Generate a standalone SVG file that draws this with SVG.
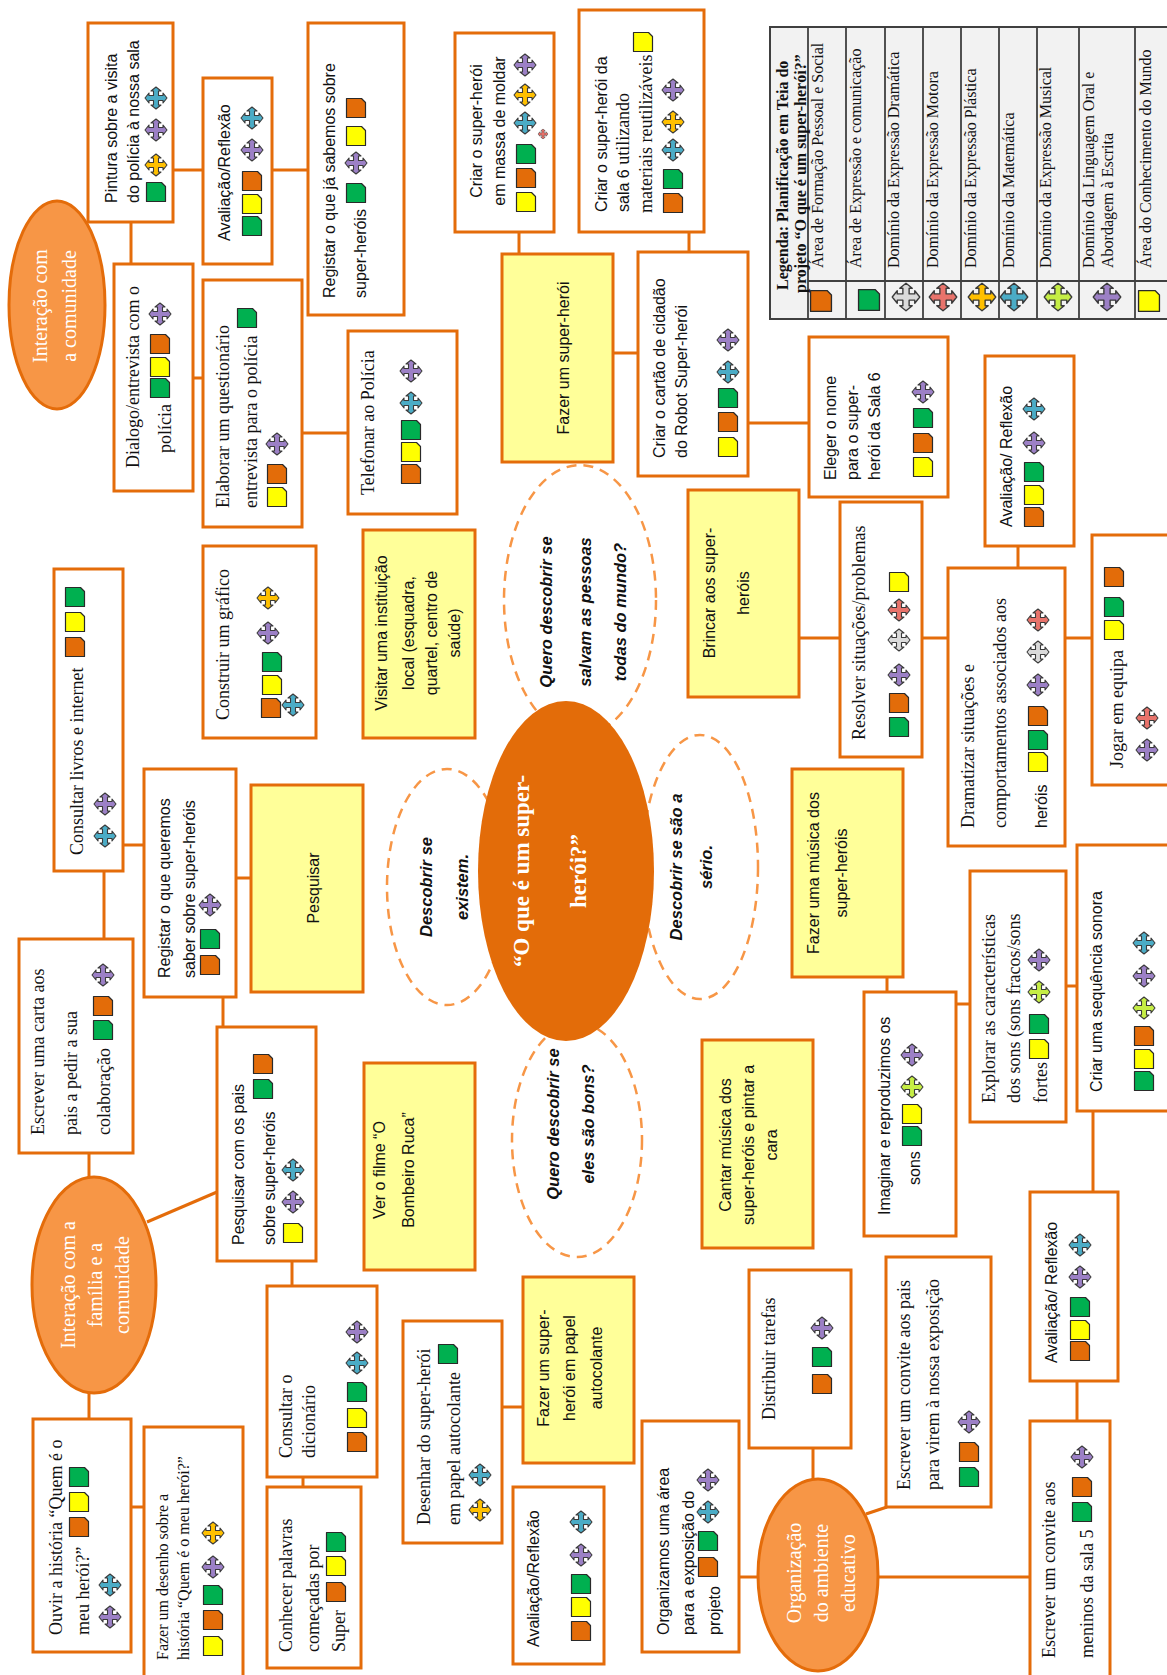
<svg xmlns="http://www.w3.org/2000/svg" xmlns:xlink="http://www.w3.org/1999/xlink" width="1167" height="1675" viewBox="0 0 1167 1675">
<defs>
<style>
.b{fill:#fff;stroke:#E46C0A;stroke-width:3}
.y{fill:#FFFF99;stroke:#E46C0A;stroke-width:3}
.s{font-family:"Liberation Sans",Arial,sans-serif;font-size:16px;fill:#111}
.r{font-family:"Liberation Serif","Times New Roman",serif;font-size:18px;fill:#111}
.m{text-anchor:middle}
.q{font-family:"Liberation Sans",Arial,sans-serif;font-size:16.5px;font-weight:bold;font-style:italic;fill:#111;text-anchor:middle}
.w{font-family:"Liberation Serif","Times New Roman",serif;font-size:20px;fill:#fff;text-anchor:middle}
.e{fill:#F79646;stroke:#E46C0A;stroke-width:3}
.d{fill:#fff;stroke:#F79646;stroke-width:2.5;stroke-dasharray:10 7}
#connectors line{stroke:#E46C0A;stroke-width:3}
.lg{font-family:"Liberation Serif","Times New Roman",serif;font-size:16px;fill:#111}
.io{fill:#E36C09}.ig{fill:#00B050}.iy{fill:#FFFF00}
.cp{fill:#9C80C6}.cb{fill:#4BACC6}.cy{fill:#FFC000}.cr{fill:#E8736B}.cg{fill:#DADADA}.cl{fill:#C6EE45}
</style>
<path id="sq" d="M-9.5,-9.5H5.5L9.5,-5.5V9.5H-9.5Z" stroke="#2a2a2a" stroke-width="1.2" stroke-linejoin="round"/>
<polygon id="cr" points="0,-11 5,-7 2.5,-7 2.5,-2.5 7,-2.5 7,-5 11,0 7,5 7,2.5 2.5,2.5 2.5,7 5,7 0,11 -5,7 -2.5,7 -2.5,2.5 -7,2.5 -7,5 -11,0 -7,-5 -7,-2.5 -2.5,-2.5 -2.5,-7 -5,-7" stroke="#3a3a3a" stroke-width="1.1" stroke-linejoin="round"/>
</defs>
<rect width="1167" height="1675" fill="#fff"/>

<g id="connectors">
<line x1="173" y1="170" x2="203" y2="170"/>
<line x1="272" y1="170" x2="308" y2="170"/>
<line x1="131" y1="222" x2="131" y2="264"/>
<line x1="193" y1="378" x2="203" y2="378"/>
<line x1="302" y1="433" x2="348" y2="433"/>
<line x1="519" y1="232" x2="519" y2="254"/>
<line x1="689" y1="232" x2="689" y2="252"/>
<line x1="613" y1="353" x2="638" y2="353"/>
<line x1="748" y1="423" x2="809" y2="423"/>
<line x1="799" y1="638" x2="840" y2="638"/>
<line x1="922" y1="638" x2="948" y2="638"/>
<line x1="1065" y1="638" x2="1092" y2="638"/>
<line x1="1018" y1="546" x2="1018" y2="568"/>
<line x1="887" y1="977" x2="887" y2="992"/>
<line x1="956" y1="1004" x2="970" y2="1004"/>
<line x1="1066" y1="986" x2="1077" y2="986"/>
<line x1="1093" y1="1111" x2="1093" y2="1192"/>
<line x1="1077" y1="1381" x2="1077" y2="1421"/>
<line x1="813" y1="1448" x2="813" y2="1480"/>
<line x1="739" y1="1577" x2="758" y2="1577"/>
<line x1="866" y1="1514" x2="887" y2="1507"/>
<line x1="878" y1="1577" x2="1030" y2="1577"/>
<line x1="502" y1="1407" x2="523" y2="1407"/>
<line x1="131" y1="1507" x2="144" y2="1507"/>
<line x1="89" y1="1392" x2="89" y2="1419"/>
<line x1="292" y1="1261" x2="292" y2="1286"/>
<line x1="303" y1="1477" x2="303" y2="1487"/>
<line x1="147" y1="1222" x2="217" y2="1192"/>
<line x1="89" y1="1153" x2="89" y2="1178"/>
<line x1="104" y1="871" x2="104" y2="939"/>
<line x1="123" y1="845" x2="144" y2="845"/>
<line x1="236" y1="878" x2="251" y2="878"/>
<line x1="223" y1="997" x2="223" y2="1027"/>
</g>

<g id="n-quero1"><ellipse class="d" cx="580" cy="600" rx="76" ry="135"/>
<text class="q" transform="rotate(-90)"><tspan x="-612" y="552">Quero descobrir se</tspan><tspan x="-612" y="591">salvam as pessoas</tspan><tspan x="-612" y="626">todas do mundo?</tspan></text></g>
<g id="n-existem"><ellipse class="d" cx="447" cy="887" rx="60" ry="118"/>
<text class="q" transform="rotate(-90)"><tspan x="-887" y="432">Descobrir se</tspan><tspan x="-887" y="468">existem.</tspan></text></g>
<g id="n-serio"><ellipse class="d" cx="700" cy="867" rx="58" ry="132"/>
<text class="q" transform="rotate(-90)"><tspan x="-867" y="682">Descobrir se são a</tspan><tspan x="-867" y="712">sério.</tspan></text></g>
<g id="n-quero2"><ellipse class="d" cx="577" cy="1140" rx="65" ry="117"/>
<text class="q" transform="rotate(-90)"><tspan x="-1124" y="559">Quero descobrir se</tspan><tspan x="-1124" y="594">eles são bons?</tspan></text></g>

<g id="n-central"><ellipse cx="566" cy="871" rx="88" ry="170" fill="#E36C09"/>
<text class="w" style="font-weight:bold;font-size:23px" transform="rotate(-90)"><tspan x="-871" y="529">“O que é um super-</tspan><tspan x="-871" y="586">herói?”</tspan></text></g>

<g id="n-pintura"><rect class="b" x="88" y="23" width="85" height="199"/>
<text class="s" transform="rotate(-90)"><tspan x="-203" y="117">Pintura sobre a visita</tspan><tspan x="-203" y="139">do polícia à nossa sala</tspan></text>
<use href="#sq" class="ig" x="156" y="192"/><use href="#cr" class="cy" x="156" y="165"/><use href="#cr" class="cp" x="156" y="130"/><use href="#cr" class="cb" x="156" y="98"/></g>

<g id="n-aval1"><rect class="b" x="203" y="78" width="69" height="186"/>
<text class="s" transform="rotate(-90)"><tspan x="-241" y="230">Avaliação/Reflexão</tspan></text>
<use href="#sq" class="ig" x="252" y="226"/><use href="#sq" class="iy" x="252" y="204"/><use href="#sq" class="io" x="252" y="181"/><use href="#cr" class="cp" x="252" y="150"/><use href="#cr" class="cb" x="252" y="118"/></g>

<g id="n-reg1"><rect class="b" x="308" y="23" width="96" height="292"/>
<text class="s" transform="rotate(-90)"><tspan x="-298" y="335">Registar o que já sabemos sobre</tspan><tspan x="-298" y="366">super-heróis</tspan></text>
<use href="#sq" class="ig" x="356" y="193"/><use href="#cr" class="cp" x="356" y="163"/><use href="#sq" class="iy" x="356" y="136"/><use href="#sq" class="io" x="356" y="108"/></g>

<g id="n-comunidade"><ellipse class="e" cx="57" cy="305" rx="48" ry="104"/>
<text class="w" transform="rotate(-90)"><tspan x="-306" y="47">Interação com</tspan><tspan x="-306" y="76">a comunidade</tspan></text></g>

<g id="n-dialogo"><rect class="b" x="114" y="264" width="79" height="227"/>
<text class="r" transform="rotate(-90)"><tspan x="-468" y="139">Dialogo/entrevista com o</tspan><tspan x="-453" y="171">polícia</tspan></text>
<use href="#sq" class="ig" x="160" y="388"/><use href="#sq" class="iy" x="160" y="367"/><use href="#sq" class="io" x="160" y="344"/><use href="#cr" class="cp" x="160" y="314"/></g>

<g id="n-elaborar"><rect class="b" x="203" y="280" width="99" height="247"/>
<text class="r" transform="rotate(-90)"><tspan x="-508" y="229">Elaborar  um questionário</tspan><tspan x="-508" y="257">entrevista para o polícia</tspan></text>
<use href="#sq" class="ig" x="247" y="318"/><use href="#sq" class="iy" x="277" y="497"/><use href="#sq" class="io" x="277" y="474"/><use href="#cr" class="cp" x="277" y="444"/></g>

<g id="n-telefonar"><rect class="b" x="348" y="331" width="109" height="183"/>
<text class="r" transform="rotate(-90)"><tspan x="-495" y="374">Telefonar ao Polícia</tspan></text>
<use href="#sq" class="io" x="411" y="474"/><use href="#sq" class="iy" x="411" y="452"/><use href="#sq" class="ig" x="411" y="430"/><use href="#cr" class="cb" x="411" y="403"/><use href="#cr" class="cp" x="411" y="371"/></g>

<g id="n-massa"><rect class="b" x="455" y="33" width="99" height="199"/>
<text class="s m" transform="rotate(-90)"><tspan x="-131" y="482">Criar o super-herói</tspan><tspan x="-131" y="505">em massa de moldar</tspan></text>
<use href="#sq" class="iy" x="526" y="202"/><use href="#sq" class="io" x="526" y="178"/><use href="#sq" class="ig" x="526" y="154"/><use href="#cr" class="cr" transform="translate(543,134) scale(0.45)"/><use href="#cr" class="cb" x="525" y="123"/><use href="#cr" class="cy" x="525" y="95"/><use href="#cr" class="cp" x="525" y="65"/></g>

<g id="n-sala6"><rect class="b" x="579" y="10" width="125" height="222"/>
<text class="s" transform="rotate(-90)"><tspan x="-212" y="607">Criar o super-herói da</tspan><tspan x="-212" y="629">sala 6 <tspan font-family="Liberation Serif, serif" font-size="18">utilizando</tspan></tspan><tspan x="-213" y="652" font-family="Liberation Serif, serif" font-size="18">materiais reutilizáveis</tspan></text>
<use href="#sq" class="iy" x="643" y="42"/><use href="#sq" class="io" x="673" y="203"/><use href="#sq" class="ig" x="673" y="179"/><use href="#cr" class="cb" x="673" y="150"/><use href="#cr" class="cy" x="673" y="122"/><use href="#cr" class="cp" x="673" y="90"/></g>

<g id="n-fazer-super"><rect class="y" x="502" y="254" width="111" height="208"/>
<text class="s m" transform="rotate(-90)"><tspan x="-358" y="569">Fazer um super-herói</tspan></text></g>

<g id="n-cartao"><rect class="b" x="638" y="252" width="110" height="224"/>
<text class="s" transform="rotate(-90)"><tspan x="-458" y="665">Criar o cartão de cidadão</tspan><tspan x="-458" y="687">do Robot Super-herói</tspan></text>
<use href="#cr" class="cp" x="728" y="340"/><use href="#cr" class="cb" x="728" y="372"/><use href="#sq" class="ig" x="728" y="398"/><use href="#sq" class="io" x="728" y="422"/><use href="#sq" class="iy" x="728" y="447"/></g>

<g id="n-eleger"><rect class="b" x="809" y="337" width="139" height="160"/>
<text class="s" transform="rotate(-90)"><tspan x="-480" y="836">Eleger o nome</tspan><tspan x="-480" y="858">para o super-</tspan><tspan x="-480" y="880">herói da Sala 6</tspan></text>
<use href="#cr" class="cp" x="923" y="392"/><use href="#sq" class="ig" x="923" y="418"/><use href="#sq" class="io" x="923" y="443"/><use href="#sq" class="iy" x="923" y="467"/></g>

<g id="n-aval2"><rect class="b" x="985" y="356" width="89" height="190"/>
<text class="s" transform="rotate(-90)"><tspan x="-527" y="1012">Avaliação/ Reflexão</tspan></text>
<use href="#cr" class="cb" x="1034" y="409"/><use href="#cr" class="cp" x="1034" y="443"/><use href="#sq" class="ig" x="1034" y="472"/><use href="#sq" class="iy" x="1034" y="495"/><use href="#sq" class="io" x="1034" y="517"/></g>

<g id="n-brincar"><rect class="y" x="688" y="490" width="111" height="207"/>
<text class="s m" transform="rotate(-90)"><tspan x="-593" y="715">Brincar aos super-</tspan><tspan x="-593" y="749">heróis</tspan></text></g>

<g id="n-visitar"><rect class="y" x="363" y="530" width="112" height="208"/>
<text class="s m" transform="rotate(-90)"><tspan x="-633" y="387">Visitar uma instituição</tspan><tspan x="-633" y="414">local (esquadra,</tspan><tspan x="-633" y="437">quartel, centro de</tspan><tspan x="-633" y="460">saúde)</tspan></text></g>

<g id="n-resolver"><rect class="b" x="840" y="502" width="82" height="255"/>
<text class="r" transform="rotate(-90)"><tspan x="-740" y="865">Resolver situações/problemas</tspan></text>
<use href="#sq" class="ig" x="899" y="727"/><use href="#sq" class="io" x="899" y="703"/><use href="#cr" class="cp" x="899" y="675"/><use href="#cr" class="cg" x="899" y="640"/><use href="#cr" class="cr" x="899" y="610"/><use href="#sq" class="iy" x="899" y="582"/></g>

<g id="n-dramatizar"><rect class="b" x="948" y="568" width="117" height="278"/>
<text class="r" transform="rotate(-90)"><tspan x="-828" y="974">Dramatizar situações e</tspan><tspan x="-828" y="1006">comportamentos associados aos</tspan><tspan x="-828" y="1047" font-family="Liberation Sans, sans-serif" font-size="16">heróis</tspan></text>
<use href="#sq" class="iy" x="1038" y="762"/><use href="#sq" class="ig" x="1038" y="740"/><use href="#sq" class="io" x="1038" y="716"/><use href="#cr" class="cp" x="1038" y="685"/><use href="#cr" class="cg" x="1038" y="652"/><use href="#cr" class="cr" x="1038" y="620"/></g>

<g id="n-jogar"><rect class="b" x="1092" y="535" width="80" height="250"/>
<text class="r" transform="rotate(-90)"><tspan x="-768" y="1123">Jogar em equipa</tspan></text>
<use href="#sq" class="iy" x="1114" y="630"/><use href="#sq" class="ig" x="1114" y="607"/><use href="#sq" class="io" x="1114" y="577"/><use href="#cr" class="cr" x="1147" y="718"/><use href="#cr" class="cp" x="1147" y="750"/></g>

<g id="n-musica"><rect class="y" x="792" y="769" width="111" height="208"/>
<text class="s m" transform="rotate(-90)"><tspan x="-873" y="819">Fazer uma música dos</tspan><tspan x="-873" y="847">super-heróis</tspan></text></g>

<g id="n-imaginar"><rect class="b" x="864" y="992" width="92" height="244"/>
<text class="s" transform="rotate(-90)"><tspan x="-1215" y="890">Imaginar e reproduzimos os</tspan><tspan x="-1185" y="920">sons</tspan></text>
<use href="#sq" class="ig" x="912" y="1136"/><use href="#sq" class="iy" x="912" y="1114"/><use href="#cr" class="cl" x="912" y="1087"/><use href="#cr" class="cp" x="912" y="1055"/></g>

<g id="n-explorar"><rect class="b" x="970" y="871" width="96" height="251"/>
<text class="r" transform="rotate(-90)"><tspan x="-1103" y="995">Explorar as características</tspan><tspan x="-1103" y="1020">dos sons (sons fracos/sons</tspan><tspan x="-1103" y="1047">fortes</tspan></text>
<use href="#sq" class="iy" x="1039" y="1049"/><use href="#sq" class="ig" x="1039" y="1024"/><use href="#cr" class="cl" x="1039" y="992"/><use href="#cr" class="cp" x="1039" y="960"/></g>

<g id="n-sequencia"><rect class="b" x="1077" y="845" width="95" height="266"/>
<text class="s" transform="rotate(-90)"><tspan x="-1092" y="1102">Criar uma sequência sonora</tspan></text>
<use href="#sq" class="ig" x="1144" y="1081"/><use href="#sq" class="iy" x="1144" y="1059"/><use href="#sq" class="io" x="1144" y="1036"/><use href="#cr" class="cl" x="1144" y="1008"/><use href="#cr" class="cp" x="1144" y="976"/><use href="#cr" class="cb" x="1144" y="943"/></g>

<g id="n-cantar"><rect class="y" x="702" y="1040" width="111" height="208"/>
<text class="s m" transform="rotate(-90)"><tspan x="-1145" y="731">Cantar música dos</tspan><tspan x="-1145" y="754">super-heróis e pintar a</tspan><tspan x="-1145" y="777">cara</tspan></text></g>

<g id="n-filme"><rect class="y" x="364" y="1063" width="111" height="207"/>
<text class="s m" transform="rotate(-90)"><tspan x="-1170" y="385">Ver o filme “O</tspan><tspan x="-1170" y="414">Bombeiro Ruca”</tspan></text></g>

<g id="n-carta"><rect class="b" x="19" y="939" width="114" height="214"/>
<text class="r" transform="rotate(-90)"><tspan x="-1135" y="44">Escrever uma carta aos</tspan><tspan x="-1135" y="77">pais a pedir a sua</tspan><tspan x="-1135" y="110">colaboração</tspan></text>
<use href="#sq" class="ig" x="103" y="1030"/><use href="#sq" class="io" x="103" y="1006"/><use href="#cr" class="cp" x="103" y="975"/></g>

<g id="n-livros"><rect class="b" x="54" y="569" width="69" height="302"/>
<text class="r" transform="rotate(-90)"><tspan x="-855" y="83">Consultar livros e internet</tspan></text>
<use href="#sq" class="io" x="75" y="647"/><use href="#sq" class="iy" x="75" y="622"/><use href="#sq" class="ig" x="75" y="597"/><use href="#cr" class="cp" x="105" y="804"/><use href="#cr" class="cb" x="105" y="836"/></g>

<g id="n-grafico"><rect class="b" x="203" y="546" width="113" height="192"/>
<text class="r" transform="rotate(-90)"><tspan x="-720" y="229">Construir um gráfico</tspan></text>
<use href="#cr" class="cy" x="268" y="598"/><use href="#cr" class="cp" x="268" y="633"/><use href="#sq" class="ig" x="272" y="662"/><use href="#sq" class="iy" x="272" y="685"/><use href="#sq" class="io" x="271" y="708"/><use href="#cr" class="cb" x="293" y="705"/></g>

<g id="n-reg2"><rect class="b" x="144" y="769" width="92" height="228"/>
<text class="s" transform="rotate(-90)"><tspan x="-978" y="170">Registar o que queremos</tspan><tspan x="-978" y="195">saber sobre super-heróis</tspan></text>
<use href="#sq" class="io" x="210" y="965"/><use href="#sq" class="ig" x="210" y="939"/><use href="#cr" class="cp" x="210" y="905"/></g>

<g id="n-pesquisar"><rect class="y" x="251" y="785" width="112" height="207"/>
<text class="s m" transform="rotate(-90)"><tspan x="-888" y="319">Pesquisar</tspan></text></g>

<g id="n-pais"><rect class="b" x="217" y="1027" width="99" height="234"/>
<text class="s" transform="rotate(-90)"><tspan x="-1245" y="244">Pesquisar com os pais</tspan><tspan x="-1245" y="275">sobre super-heróis</tspan></text>
<use href="#sq" class="io" x="263" y="1064"/><use href="#sq" class="ig" x="263" y="1089"/><use href="#cr" class="cb" x="293" y="1170"/><use href="#cr" class="cp" x="293" y="1202"/><use href="#sq" class="iy" x="293" y="1233"/></g>

<g id="n-familia"><ellipse class="e" cx="94" cy="1285" rx="62" ry="108"/>
<text class="w" transform="rotate(-90)"><tspan x="-1285" y="75">Interação com a</tspan><tspan x="-1285" y="102">família e a</tspan><tspan x="-1285" y="129">comunidade</tspan></text></g>

<g id="n-dicionario"><rect class="b" x="267" y="1286" width="110" height="191"/>
<text class="r" transform="rotate(-90)"><tspan x="-1458" y="292">Consultar o</tspan><tspan x="-1458" y="315">dicionário</tspan></text>
<use href="#sq" class="io" x="357" y="1442"/><use href="#sq" class="iy" x="357" y="1418"/><use href="#sq" class="ig" x="357" y="1392"/><use href="#cr" class="cb" x="357" y="1363"/><use href="#cr" class="cp" x="357" y="1332"/></g>

<g id="n-conhecer"><rect class="b" x="267" y="1487" width="94" height="181"/>
<text class="r" transform="rotate(-90)"><tspan x="-1652" y="292">Conhecer palavras</tspan><tspan x="-1652" y="319">começadas por</tspan><tspan x="-1652" y="345">Super</tspan></text>
<use href="#sq" class="ig" x="336" y="1542"/><use href="#sq" class="iy" x="336" y="1566"/><use href="#sq" class="io" x="336" y="1592"/></g>

<g id="n-ouvir"><rect class="b" x="33" y="1419" width="98" height="233"/>
<text class="r" transform="rotate(-90)"><tspan x="-1635" y="62">Ouvir a história “Quem é o</tspan><tspan x="-1635" y="89">meu herói?”</tspan></text>
<use href="#sq" class="io" x="79" y="1527"/><use href="#sq" class="iy" x="79" y="1502"/><use href="#sq" class="ig" x="79" y="1477"/><use href="#cr" class="cb" x="110" y="1585"/><use href="#cr" class="cp" x="110" y="1617"/></g>

<g id="n-desenho"><rect class="b" x="144" y="1427" width="99" height="252"/>
<text class="r" style="font-size:16px" transform="rotate(-90)"><tspan x="-1660" y="168">Fazer um desenho sobre a</tspan><tspan x="-1660" y="189">história “Quem é o meu herói?”</tspan></text>
<use href="#sq" class="iy" x="213" y="1646"/><use href="#sq" class="io" x="213" y="1620"/><use href="#sq" class="ig" x="213" y="1595"/><use href="#cr" class="cp" x="213" y="1567"/><use href="#cr" class="cy" x="213" y="1533"/></g>

<g id="n-desenhar"><rect class="b" x="403" y="1321" width="99" height="222"/>
<text class="r" transform="rotate(-90)"><tspan x="-1525" y="430">Desenhar do super-herói</tspan><tspan x="-1525" y="460">em papel autocolante</tspan></text>
<use href="#sq" class="ig" x="448" y="1354"/><use href="#cr" class="cb" x="480" y="1475"/><use href="#cr" class="cy" x="480" y="1510"/></g>

<g id="n-autocolante"><rect class="y" x="523" y="1277" width="111" height="186"/>
<text class="s m" transform="rotate(-90)"><tspan x="-1368" y="549">Fazer um super-</tspan><tspan x="-1368" y="575">herói em papel</tspan><tspan x="-1368" y="602">autocolante</tspan></text></g>

<g id="n-aval3"><rect class="b" x="513" y="1487" width="91" height="177"/>
<text class="s" transform="rotate(-90)"><tspan x="-1647" y="539">Avaliação/Reflexão</tspan></text>
<use href="#sq" class="io" x="581" y="1631"/><use href="#sq" class="iy" x="581" y="1607"/><use href="#sq" class="ig" x="581" y="1584"/><use href="#cr" class="cp" x="581" y="1555"/><use href="#cr" class="cb" x="581" y="1522"/></g>

<g id="n-organizamos"><rect class="b" x="642" y="1421" width="97" height="231"/>
<text class="s" transform="rotate(-90)"><tspan x="-1635" y="669">Organizamos uma área</tspan><tspan x="-1635" y="694">para a exposição do</tspan><tspan x="-1635" y="720">projeto</tspan></text>
<use href="#sq" class="io" x="708" y="1567"/><use href="#sq" class="ig" x="708" y="1541"/><use href="#cr" class="cb" x="708" y="1512"/><use href="#cr" class="cp" x="708" y="1480"/></g>

<g id="n-distribuir"><rect class="b" x="749" y="1270" width="102" height="178"/>
<text class="r" transform="rotate(-90)"><tspan x="-1420" y="775">Distribuir tarefas</tspan></text>
<use href="#sq" class="io" x="822" y="1384"/><use href="#sq" class="ig" x="822" y="1357"/><use href="#cr" class="cp" x="822" y="1328"/></g>

<g id="n-organizacao"><ellipse class="e" cx="818" cy="1575" rx="60" ry="96"/>
<text class="w" transform="rotate(-90)"><tspan x="-1573" y="801">Organização</tspan><tspan x="-1573" y="828">do ambiente</tspan><tspan x="-1573" y="855">educativo</tspan></text></g>

<g id="n-convite-pais"><rect class="b" x="886" y="1257" width="105" height="250"/>
<text class="r" transform="rotate(-90)"><tspan x="-1490" y="910">Escrever um convite aos pais</tspan><tspan x="-1490" y="939">para virem à nossa exposição</tspan></text>
<use href="#sq" class="ig" x="969" y="1477"/><use href="#sq" class="io" x="969" y="1452"/><use href="#cr" class="cp" x="969" y="1422"/></g>

<g id="n-convite-meninos"><rect class="b" x="1030" y="1421" width="80" height="258"/>
<text class="r" transform="rotate(-90)"><tspan x="-1658" y="1055">Escrever um convite aos</tspan><tspan x="-1658" y="1093">meninos da sala 5</tspan></text>
<use href="#sq" class="ig" x="1082" y="1512"/><use href="#sq" class="io" x="1082" y="1487"/><use href="#cr" class="cp" x="1082" y="1457"/></g>

<g id="n-aval4"><rect class="b" x="1030" y="1192" width="88" height="189"/>
<text class="s" transform="rotate(-90)"><tspan x="-1363" y="1057">Avaliação/ Reflexão</tspan></text>
<use href="#sq" class="io" x="1080" y="1351"/><use href="#sq" class="iy" x="1080" y="1330"/><use href="#sq" class="ig" x="1080" y="1307"/><use href="#cr" class="cp" x="1080" y="1277"/><use href="#cr" class="cb" x="1080" y="1245"/></g>

<g id="legend">
<rect x="770" y="27" width="400" height="292" fill="#F2F2F2" stroke="#404040" stroke-width="2"/>
<g stroke="#404040" stroke-width="1.8">
<line x1="808" y1="27" x2="808" y2="319"/><line x1="846" y1="27" x2="846" y2="319"/><line x1="885" y1="27" x2="885" y2="319"/><line x1="923" y1="27" x2="923" y2="319"/><line x1="961" y1="27" x2="961" y2="319"/><line x1="999" y1="27" x2="999" y2="319"/><line x1="1037" y1="27" x2="1037" y2="319"/><line x1="1079" y1="27" x2="1079" y2="319"/><line x1="1135" y1="27" x2="1135" y2="319"/>
<line x1="808" y1="281" x2="1170" y2="281"/>
</g>
<text class="lg" style="font-weight:bold" transform="rotate(-90)"><tspan x="-290" y="788">Legenda: Planificação em Teia do</tspan><tspan x="-293" y="806">projeto “O que é um super-herói?”</tspan></text>
<text class="lg" transform="rotate(-90)"><tspan x="-268" y="823">Área de Formação Pessoal e Social</tspan><tspan x="-268" y="861">Área de Expressão e comunicação</tspan><tspan x="-268" y="899">Domínio da Expressão Dramática</tspan><tspan x="-268" y="938">Domínio da Expressão Motora</tspan><tspan x="-268" y="976">Domínio da Expressão Plástica</tspan><tspan x="-268" y="1014">Domínio da Matemática</tspan><tspan x="-268" y="1051">Domínio da Expressão Musical</tspan><tspan x="-268" y="1094">Domínio da Linguagem Oral e</tspan><tspan x="-268" y="1113">Abordagem à Escrita</tspan><tspan x="-268" y="1151">Área do Conhecimento do Mundo</tspan></text>
<use href="#sq" class="io" transform="translate(821,301) scale(1.1)"/>
<use href="#sq" class="ig" transform="translate(869,300) scale(1.1)"/>
<use href="#cr" class="cg" transform="translate(906,297) scale(1.25)"/>
<use href="#cr" class="cr" transform="translate(943,297) scale(1.25)"/>
<use href="#cr" class="cy" transform="translate(982,297) scale(1.25)"/>
<use href="#cr" class="cb" transform="translate(1014,297) scale(1.25)"/>
<use href="#cr" class="cl" transform="translate(1058,297) scale(1.25)"/>
<use href="#cr" class="cp" transform="translate(1107,297) scale(1.25)"/>
<use href="#sq" class="iy" transform="translate(1149,301) scale(1.1)"/>
</g>
</svg>
